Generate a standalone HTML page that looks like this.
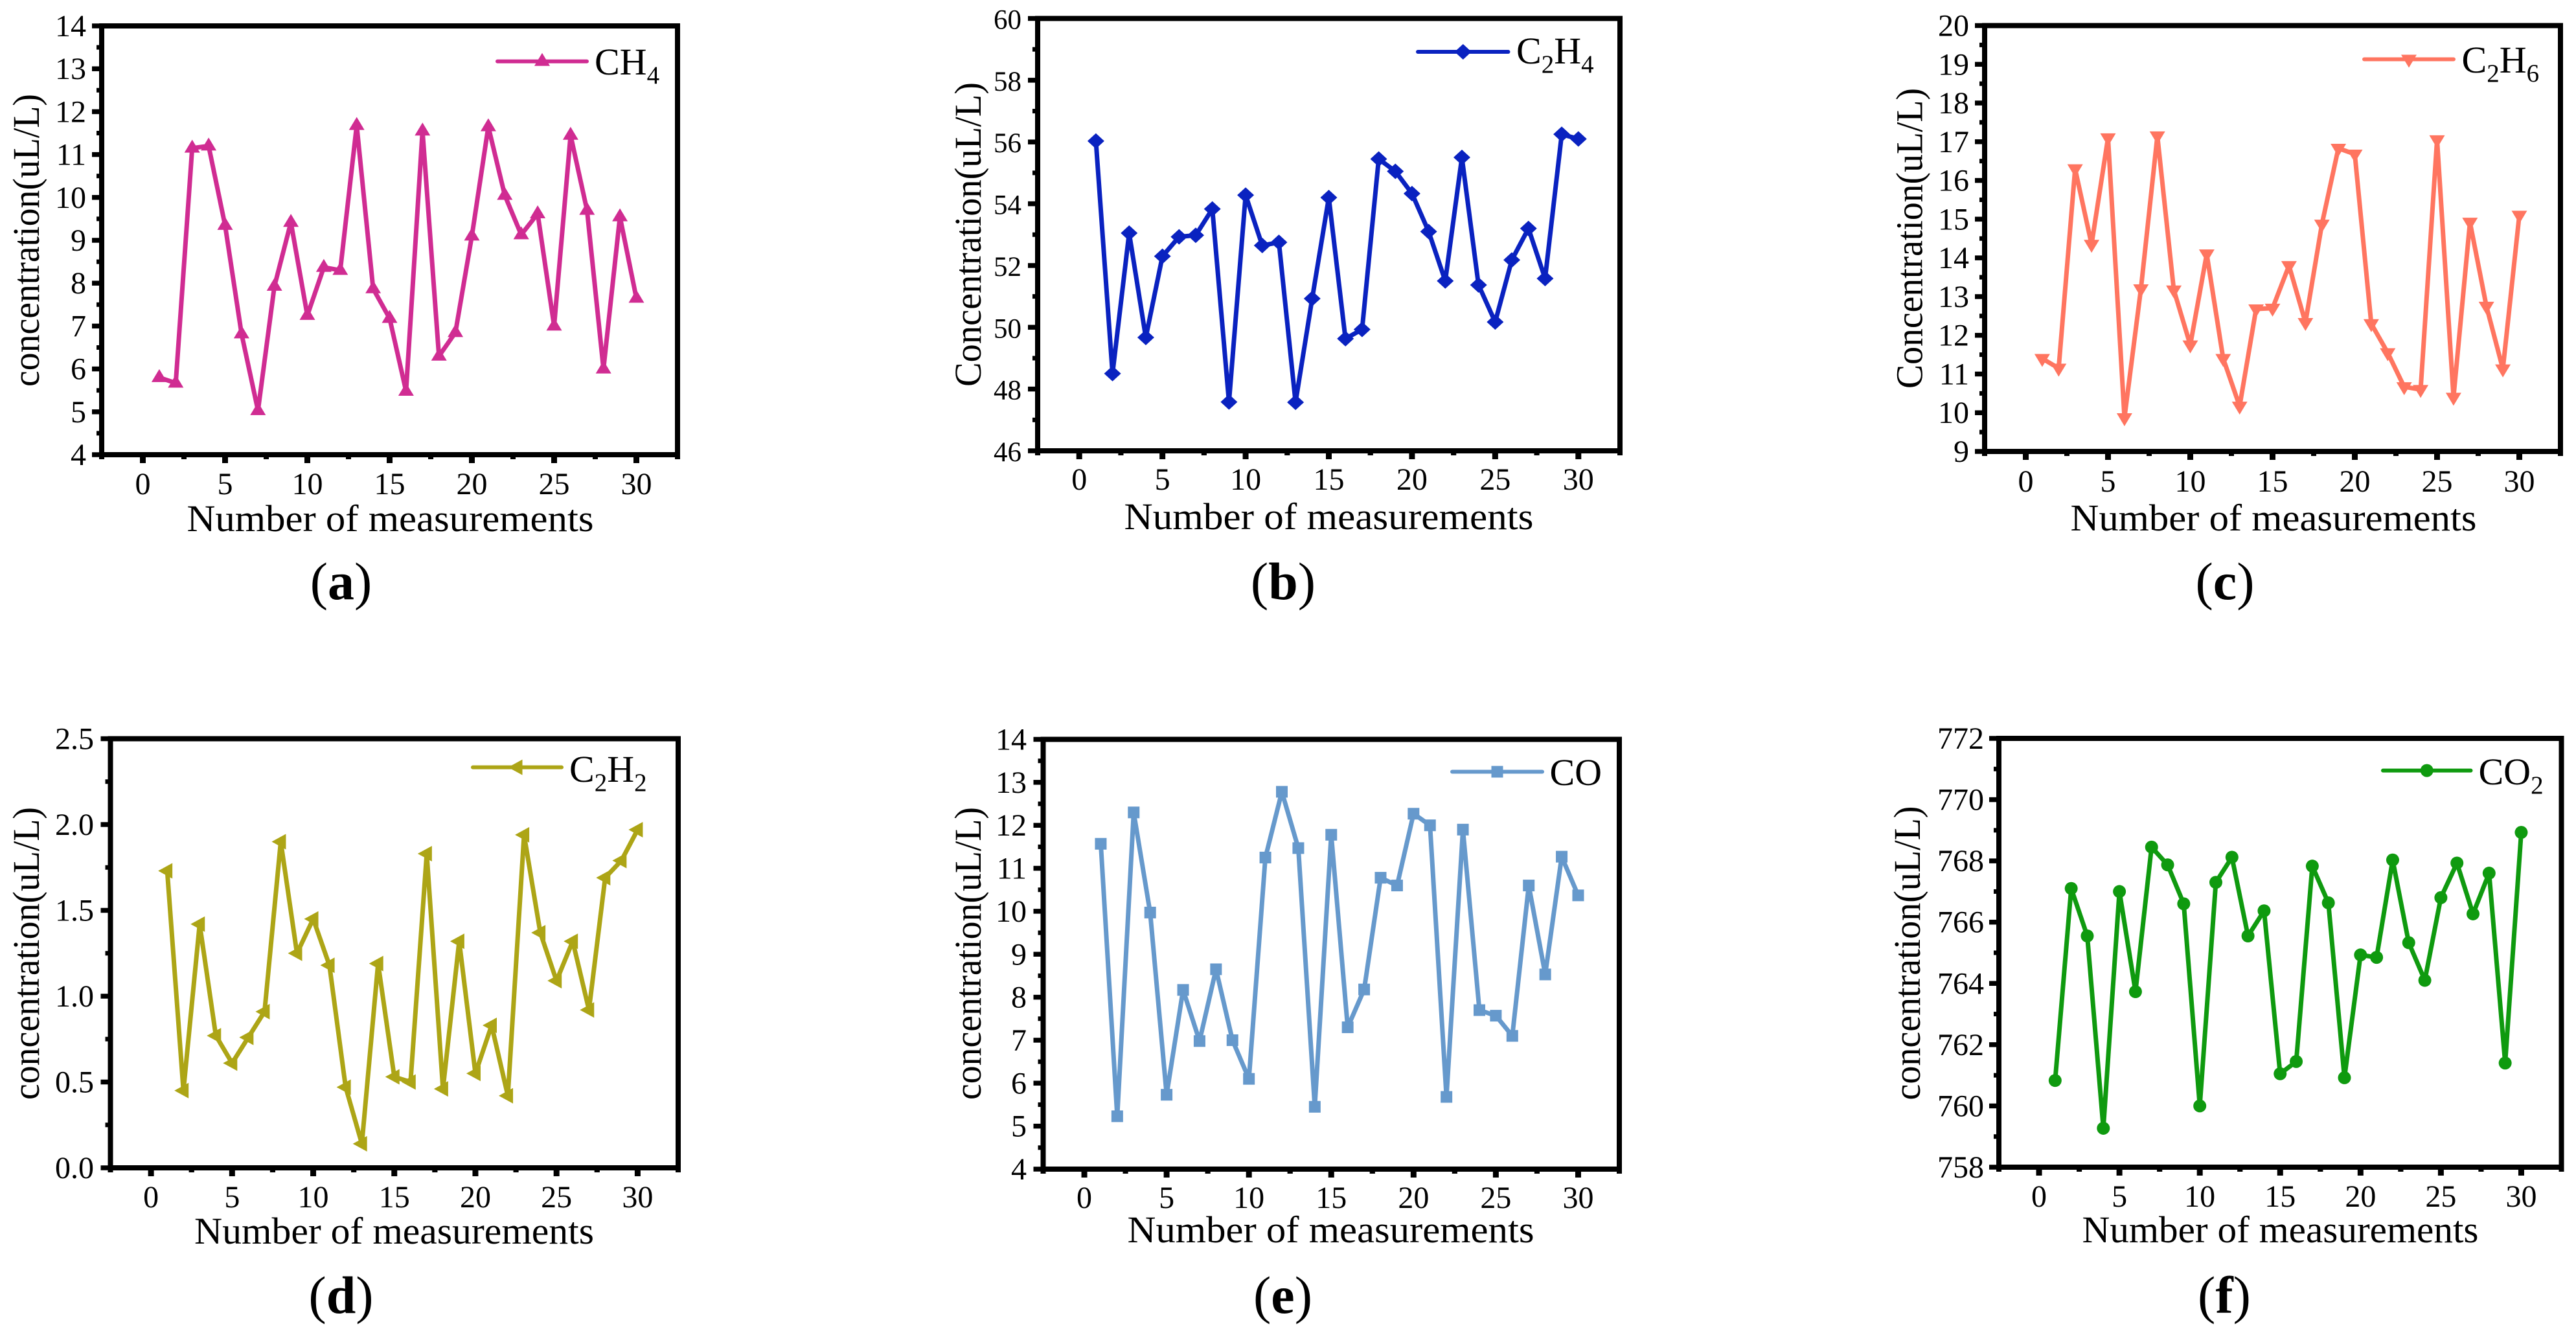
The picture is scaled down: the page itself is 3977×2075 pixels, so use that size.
<!DOCTYPE html>
<html lang="en">
<head>
<meta charset="utf-8">
<title>Gas concentration measurements</title>
<style>
html,body{margin:0;padding:0;background:#fff;}
svg{display:block;}
text{font-family:"Liberation Serif",serif;fill:#000;}
.axis-title{font-size:58px;}
.tick-label{font-size:48px;}
.legend-text{font-size:58px;}
.sub{font-size:39px;}
.caption{font-size:82px;}
</style>
</head>
<body>
<svg id="figure" xmlns="http://www.w3.org/2000/svg" width="3977" height="2075" viewBox="0 0 3977 2075">
<rect width="3977" height="2075" fill="#fff"/>

<g id="panel-a">
<text class="axis-title" x="602.5" y="820" text-anchor="middle" textLength="628" lengthAdjust="spacingAndGlyphs">Number of measurements</text>
<text class="axis-title" transform="rotate(-90 60 371)" x="60" y="371" text-anchor="middle" textLength="452" lengthAdjust="spacingAndGlyphs">concentration(uL/L)</text>
<text class="legend-text" x="918" y="115">CH<tspan class="sub" dy="14">4</tspan></text>
<text class="caption" x="526.5" y="925" text-anchor="middle">(<tspan font-weight="bold">a</tspan>)</text>
</g>

<g id="panel-b">
<text class="axis-title" x="2051.5" y="817" text-anchor="middle" textLength="632" lengthAdjust="spacingAndGlyphs">Number of measurements</text>
<text class="axis-title" transform="rotate(-90 1514 362)" x="1514" y="362" text-anchor="middle" textLength="470" lengthAdjust="spacingAndGlyphs">Concentration(uL/L)</text>
<text class="legend-text" x="2341" y="98">C<tspan class="sub" dy="14">2</tspan><tspan dy="-14">H</tspan><tspan class="sub" dy="14">4</tspan></text>
<text class="caption" x="1981" y="925" text-anchor="middle">(<tspan font-weight="bold">b</tspan>)</text>
</g>

<g id="panel-c">
<text class="axis-title" x="3510" y="819" text-anchor="middle" textLength="627" lengthAdjust="spacingAndGlyphs">Number of measurements</text>
<text class="axis-title" transform="rotate(-90 2967.5 368)" x="2967.5" y="368" text-anchor="middle" textLength="464" lengthAdjust="spacingAndGlyphs">Concentration(uL/L)</text>
<text class="legend-text" x="3800.5" y="112">C<tspan class="sub" dy="14">2</tspan><tspan dy="-14">H</tspan><tspan class="sub" dy="14">6</tspan></text>
<text class="caption" x="3435" y="925" text-anchor="middle">(<tspan font-weight="bold">c</tspan>)</text>
</g>

<g id="panel-d">
<text class="axis-title" x="608.5" y="1920" text-anchor="middle" textLength="617" lengthAdjust="spacingAndGlyphs">Number of measurements</text>
<text class="axis-title" transform="rotate(-90 60 1472)" x="60" y="1472" text-anchor="middle" textLength="452" lengthAdjust="spacingAndGlyphs">concentration(uL/L)</text>
<text class="legend-text" x="879" y="1207">C<tspan class="sub" dy="14">2</tspan><tspan dy="-14">H</tspan><tspan class="sub" dy="14">2</tspan></text>
<text class="caption" x="526.5" y="2027" text-anchor="middle">(<tspan font-weight="bold">d</tspan>)</text>
</g>

<g id="panel-e">
<text class="axis-title" x="2054.5" y="1918" text-anchor="middle" textLength="628" lengthAdjust="spacingAndGlyphs">Number of measurements</text>
<text class="axis-title" transform="rotate(-90 1514 1472)" x="1514" y="1472" text-anchor="middle" textLength="452" lengthAdjust="spacingAndGlyphs">concentration(uL/L)</text>
<text class="legend-text" x="2392.5" y="1212">CO</text>
<text class="caption" x="1980.5" y="2027" text-anchor="middle">(<tspan font-weight="bold">e</tspan>)</text>
</g>

<g id="panel-f">
<text class="axis-title" x="3520.5" y="1918" text-anchor="middle" textLength="612" lengthAdjust="spacingAndGlyphs">Number of measurements</text>
<text class="axis-title" transform="rotate(-90 2964 1471.5)" x="2964" y="1471.5" text-anchor="middle" textLength="454" lengthAdjust="spacingAndGlyphs">concentration(uL/L)</text>
<text class="legend-text" x="3826.5" y="1211">CO<tspan class="sub" dy="14">2</tspan></text>
<text class="caption" x="3434" y="2027" text-anchor="middle">(<tspan font-weight="bold">f</tspan>)</text>
</g>
</svg>

<script>
// ---- data ----
const measurementIndex = [1,2,3,4,5,6,7,8,9,10,11,12,13,14,15,16,17,18,19,20,21,22,23,24,25,26,27,28,29,30];
const xTickLabels = ['0','5','10','15','20','25','30'];

const ch4Values = [5.8,5.67,11.15,11.2,9.35,6.82,5.03,7.93,9.42,7.25,8.37,8.3,11.68,7.87,7.18,5.48,11.55,6.3,6.85,9.1,11.65,10.05,9.13,9.62,7.0,11.45,9.7,6.0,9.55,7.65];
const c2h4Values = [56.03,48.5,53.05,49.67,52.3,52.93,52.98,53.83,47.58,54.28,52.65,52.75,47.57,50.93,54.2,49.63,49.93,55.45,55.05,54.33,53.1,51.5,55.5,51.37,50.17,52.18,53.2,51.58,56.25,56.1];
const c2h6Values = [11.4,11.15,16.3,14.35,17.1,9.87,13.2,17.15,13.17,11.75,14.1,11.4,10.17,12.68,12.7,13.8,12.33,14.87,16.83,16.68,12.3,11.55,10.67,10.6,17.05,10.4,14.92,12.75,11.13,15.1];
const c2h2Values = [1.73,0.45,1.42,0.77,0.61,0.76,0.91,1.90,1.25,1.45,1.18,0.47,0.14,1.19,0.53,0.50,1.83,0.46,1.32,0.55,0.83,0.42,1.94,1.37,1.09,1.32,0.92,1.69,1.79,1.97];
const coValues = [11.57,5.23,12.3,9.97,5.73,8.17,6.98,8.65,7.0,6.1,11.25,12.78,11.47,5.45,11.78,7.3,8.18,10.78,10.6,12.27,12.0,5.68,11.9,7.7,7.57,7.1,10.6,8.53,11.27,10.37];
const co2Values = [760.83,767.1,765.55,759.27,767.0,763.73,768.45,767.87,766.6,760.0,767.3,768.12,765.55,766.37,761.05,761.45,767.83,766.63,760.92,764.93,764.85,768.03,765.33,764.1,766.8,767.93,766.27,767.6,761.4,768.93];

const ch4TickLabels = ['4','5','6','7','8','9','10','11','12','13','14'];
const c2h4TickLabels = ['46','48','50','52','54','56','58','60'];
const c2h6TickLabels = ['9','10','11','12','13','14','15','16','17','18','19','20'];
const c2h2TickLabels = ['0.0','0.5','1.0','1.5','2.0','2.5'];
const coTickLabels = ['4','5','6','7','8','9','10','11','12','13','14'];
const co2TickLabels = ['758','760','762','764','766','768','770','772'];

// ---- drawing ----
const SVG_NS = 'http://www.w3.org/2000/svg';
const X_DOMAIN_MIN = -2.5;
const X_DOMAIN_MAX = 32.5;

function makeEl(tag, parent) {
  const el = document.createElementNS(SVG_NS, tag);
  parent.appendChild(el);
  return el;
}

function markerNode(shape, cx, cy, color, parent) {
  let el;
  if (shape === 'circle') {
    el = makeEl('ellipse', parent);
    el.setAttribute('cx', cx);
    el.setAttribute('cy', cy);
    el.setAttribute('rx', 10);
    el.setAttribute('ry', 10);
  } else if (shape === 'square') {
    el = makeEl('rect', parent);
    el.setAttribute('x', cx - 9);
    el.setAttribute('y', cy - 9);
    el.setAttribute('width', 18);
    el.setAttribute('height', 18);
  } else {
    el = makeEl('polygon', parent);
    const outlines = {
      up: [[0,-13],[12,7],[-12,7]],
      down: [[0,13],[12,-7],[-12,-7]],
      left: [[-14,0],[8,-12],[8,12]],
      diamond: [[0,-12],[13,0],[0,12],[-13,0]]
    };
    el.setAttribute('points', outlines[shape].map(function (p) { return (cx + p[0]) + ',' + (cy + p[1]); }).join(' '));
  }
  el.setAttribute('fill', color);
  return el;
}

function drawPanel(spec) {
  const root = document.getElementById(spec.id);
  const xScale = function (v) { return spec.left + (v - X_DOMAIN_MIN) / (X_DOMAIN_MAX - X_DOMAIN_MIN) * (spec.right - spec.left); };
  const yMin = Number(spec.yLabels[0]);
  const yMax = Number(spec.yLabels[spec.yLabels.length - 1]);
  const yScale = function (v) { return spec.bottom - (v - yMin) / (yMax - yMin) * (spec.bottom - spec.top); };

  const tickLayer = makeEl('g', root);
  
  

  function tick(x1, y1, x2, y2, w) {
    const t = makeEl('line', tickLayer);
    
    
    t.setAttribute('x1', x1);
    t.setAttribute('y1', y1);
    t.setAttribute('x2', x2);
    t.setAttribute('y2', y2);
    t.setAttribute('stroke', '#000');
    t.setAttribute('stroke-width', w);
  }

  // x axis ticks and labels
  spec.xLabels.forEach(function (label) {
    const v = Number(label);
    const px = xScale(v);
    tick(px, spec.bottom, px, spec.bottom + 13, 9);
    const t = makeEl('text', tickLayer);
    
    
    t.setAttribute('class', 'tick-label');
    t.setAttribute('x', px);
    t.setAttribute('y', spec.xTickBase);
    t.setAttribute('text-anchor', 'middle');
    t.textContent = label;
    tick(xScale(v - 2.5), spec.bottom, xScale(v - 2.5), spec.bottom + 7, 8);
    tick(xScale(v + 2.5), spec.bottom, xScale(v + 2.5), spec.bottom + 7, 8);
  });

  // y axis ticks and labels
  spec.yLabels.forEach(function (label, i) {
    const v = Number(label);
    const py = yScale(v);
    tick(spec.left, py, spec.left - 15, py, 7.5);
    const t = makeEl('text', tickLayer);
    
    
    t.setAttribute('class', 'tick-label');
    t.setAttribute('x', spec.yTickRight);
    t.setAttribute('y', py + 16);
    t.setAttribute('text-anchor', 'end');
    t.setAttribute('style', 'font-size:' + spec.yTickFont + 'px');
    t.textContent = label;
    if (i < spec.yLabels.length - 1) {
      const mid = yScale((v + Number(spec.yLabels[i + 1])) / 2);
      tick(spec.left, mid, spec.left - 8, mid, 7);
    }
  });

  // plot frame
  const frame = makeEl('rect', root);
  
  
  frame.setAttribute('x', spec.left);
  frame.setAttribute('y', spec.top);
  frame.setAttribute('width', spec.right - spec.left);
  frame.setAttribute('height', spec.bottom - spec.top);
  frame.setAttribute('fill', 'none');
  frame.setAttribute('stroke', '#000');
  frame.setAttribute('stroke-width', 8);

  // series line
  const line = makeEl('polyline', root);
  
  
  line.setAttribute('points', measurementIndex.map(function (m, i) { return xScale(m) + ',' + yScale(spec.values[i]); }).join(' '));
  line.setAttribute('fill', 'none');
  line.setAttribute('stroke', spec.color);
  line.setAttribute('stroke-width', 7);
  line.setAttribute('stroke-linejoin', 'round');

  // series markers
  measurementIndex.forEach(function (m, i) {
    const mk = markerNode(spec.shape, xScale(m), yScale(spec.values[i]), spec.color, root);
    
    
  });

  // legend key
  const key = makeEl('line', root);
  
  
  key.setAttribute('x1', spec.keyX1);
  key.setAttribute('x2', spec.keyX2);
  key.setAttribute('y1', spec.keyY);
  key.setAttribute('y2', spec.keyY);
  key.setAttribute('stroke', spec.color);
  key.setAttribute('stroke-width', 6);
  key.setAttribute('stroke-linecap', 'round');
  const keyMarker = markerNode(spec.shape, (spec.keyX1 + spec.keyX2) / 2, spec.keyY, spec.color, root);
  
  
}

drawPanel({id:'panel-a', values:ch4Values, yLabels:ch4TickLabels, xLabels:xTickLabels, shape:'up', color:'#D02C92', yTickFont:48,
  left:157, right:1046, top:40, bottom:702, yTickRight:133, xTickBase:763, keyX1:768, keyX2:906, keyY:94.7});
drawPanel({id:'panel-b', values:c2h4Values, yLabels:c2h4TickLabels, xLabels:xTickLabels, shape:'diamond', color:'#0A22C0', yTickFont:43,
  left:1602, right:2501, top:28.5, bottom:696, yTickRight:1577, xTickBase:756, keyX1:2189, keyX2:2328.5, keyY:80});
drawPanel({id:'panel-c', values:c2h6Values, yLabels:c2h6TickLabels, xLabels:xTickLabels, shape:'down', color:'#FF7560', yTickFont:48,
  left:3064, right:3953, top:39.5, bottom:697, yTickRight:3040, xTickBase:759, keyX1:3650, keyX2:3788, keyY:91.5});
drawPanel({id:'panel-d', values:c2h2Values, yLabels:c2h2TickLabels, xLabels:xTickLabels, shape:'left', color:'#ADA516', yTickFont:48,
  left:170.5, right:1047, top:1140.5, bottom:1803, yTickRight:145, xTickBase:1864, keyX1:730, keyX2:867, keyY:1184.6});
drawPanel({id:'panel-e', values:coValues, yLabels:coTickLabels, xLabels:xTickLabels, shape:'square', color:'#6699CC', yTickFont:48,
  left:1610.5, right:2500, top:1141.5, bottom:1805, yTickRight:1585, xTickBase:1865, keyX1:2242, keyX2:2381, keyY:1191.5});
drawPanel({id:'panel-f', values:co2Values, yLabels:co2TickLabels, xLabels:xTickLabels, shape:'circle', color:'#0F9A0F', yTickFont:48,
  left:3086, right:3954.5, top:1140, bottom:1802, yTickRight:3063, xTickBase:1863, keyX1:3679, keyX2:3814.5, keyY:1189.6});
</script>
</body>
</html>
